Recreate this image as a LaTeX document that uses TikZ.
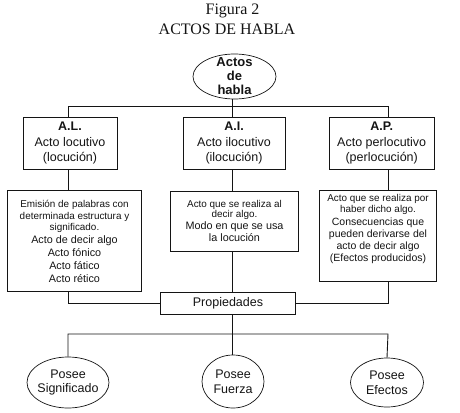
\documentclass[tikz,border=0pt]{standalone}
\usepackage{fontspec}
\setmainfont{Liberation Serif}
\setsansfont{Liberation Sans}
\usetikzlibrary{shapes.geometric}
\definecolor{inkc}{RGB}{20,20,20}
\newcommand{\fs}[2]{\fontsize{#1}{#2}\selectfont}
\newcommand{\sm}{\fs{9.9}{11.2}}
\newcommand{\hd}[3]{\textbf{#1}\\#2\\#3}
\tikzset{
  box/.style={
    rectangle, draw=inkc, line width=0.9pt, align=center,
    inner sep=2pt, font=\sffamily, text=inkc
  },
  oval/.style={ellipse, draw=inkc, line width=0.7pt, align=center,
               inner sep=0pt, font=\sffamily, text=inkc},
  link/.style={draw=inkc, line width=0.9pt},
  ttl/.style={font=\rmfamily\fs{16}{18}, text=inkc},
}

\begin{document}
\begin{tikzpicture}[x=1pt, y=-1pt]
  \useasboundingbox (0,0) rectangle (460,412);

  \node[ttl] (fig) at (232.5,11) {Figura 2};
  \node[ttl] (title) at (227,29) {ACTOS DE HABLA};

  \node[oval, minimum width=83pt, minimum height=45pt, inner ysep=-5pt,
        font=\sffamily\bfseries\fs{13}{14}] (actos) at (234.5,76.5)
    {Actos\\de\\habla};

  % the three acts
  \node[box, minimum width=94pt, minimum height=52pt, font=\sffamily\fs{12.5}{15.5}] (al) at (70,143.3)
    {\hd{A.L.}{Acto locutivo}{(locución)}};
  \node[box, minimum width=102pt, minimum height=52pt, font=\sffamily\fs{12.5}{15.5}] (ai) at (234,143.3)
    {\hd{A.I.}{Acto ilocutivo}{(ilocución)}};
  \node[box, minimum width=105pt, minimum height=52pt, font=\sffamily\fs{12.5}{15.5}] (ap) at (381.7,143.3)
    {\hd{A.P.}{Acto perlocutivo}{(perlocución)}};

  \node[box, minimum width=134.4pt, minimum height=101pt, font=\sffamily\fs{10.8}{12.8}] (aldesc) at (74.5,241.2)
    {\sm Emisión de palabras con\\[-1pt] \sm determinada estructura y\\[-1pt] \sm significado.\\
     Acto de decir algo\\ Acto fónico\\ Acto fático\\ Acto rético};
  \node[box, minimum width=127.6pt, minimum height=59.3pt, font=\sffamily\fs{10.8}{12}] (aidesc) at (234.5,221.3)
    {\sm Acto que se realiza al\\[-2pt] \sm decir algo.\\ Modo en que se usa\\ la locución};
  \node[box, minimum width=117.4pt, minimum height=91.7pt, font=\sffamily\fs{10.5}{12.3}] (apdesc) at (378,235.8)
    {\sm Acto que se realiza por\\[-1pt] \sm haber dicho algo.\\ Consecuencias que\\ pueden derivarse del\\
     acto de decir algo\\ (Efectos producidos)\\[3pt]};

  \node[box, minimum width=134.6pt, minimum height=21.3pt, inner ysep=0pt, font=\sffamily\fs{12.5}{14}] (prop) at (228,303.3)
    {Propiedades};

  % what each act has
  \node[oval, minimum width=82pt, minimum height=51pt, inner xsep=-2pt, font=\sffamily\fs{12.5}{14.6}] (sig) at (68,382.5)
    {Posee\\Significado};
  \node[oval, minimum width=62pt, minimum height=53pt, font=\sffamily\fs{12.5}{14.6}] (fuerza) at (233,381.5)
    {Posee\\Fuerza};
  \node[oval, minimum width=73pt, minimum height=49pt, font=\sffamily\fs{12.5}{14.6}] (efectos) at (387,382.5)
    {Posee\\Efectos};

  \coordinate (colL) at (68,106);
  \coordinate (colM) at (232,106);
  \coordinate (colR) at (388,106);
  \coordinate (botL) at (68,334);
  \coordinate (botR) at (388,334);

  \draw[link] (actos.south -| colM) -- (ai.north -| colM);
  \draw[link] (al.north -| colL) -- (colL) -- (colR) -- (ap.north -| colR);
  \draw[link] (al.south -| colL) -- (aldesc.north -| colL);
  \draw[link] (ai.south -| colM) -- (aidesc.north -| colM);
  \draw[link] (ap.south -| colR) -- (apdesc.north -| colR);
  \draw[link] (aldesc.south -| colL) |- (prop.west);
  \draw[link] (apdesc.south -| colR) |- (prop.east);
  \draw[link] (aidesc.south -| colM) -- (prop.north -| colM);
  \draw[link] (prop.south -| colM) -- (colM |- botL);
  \draw[link] (sig.north) -- (botL) -- (botR) -- (efectos.north);
  \draw[link] (colM |- botL) -- (fuerza.north -| colM);

\end{tikzpicture}
\end{document}
